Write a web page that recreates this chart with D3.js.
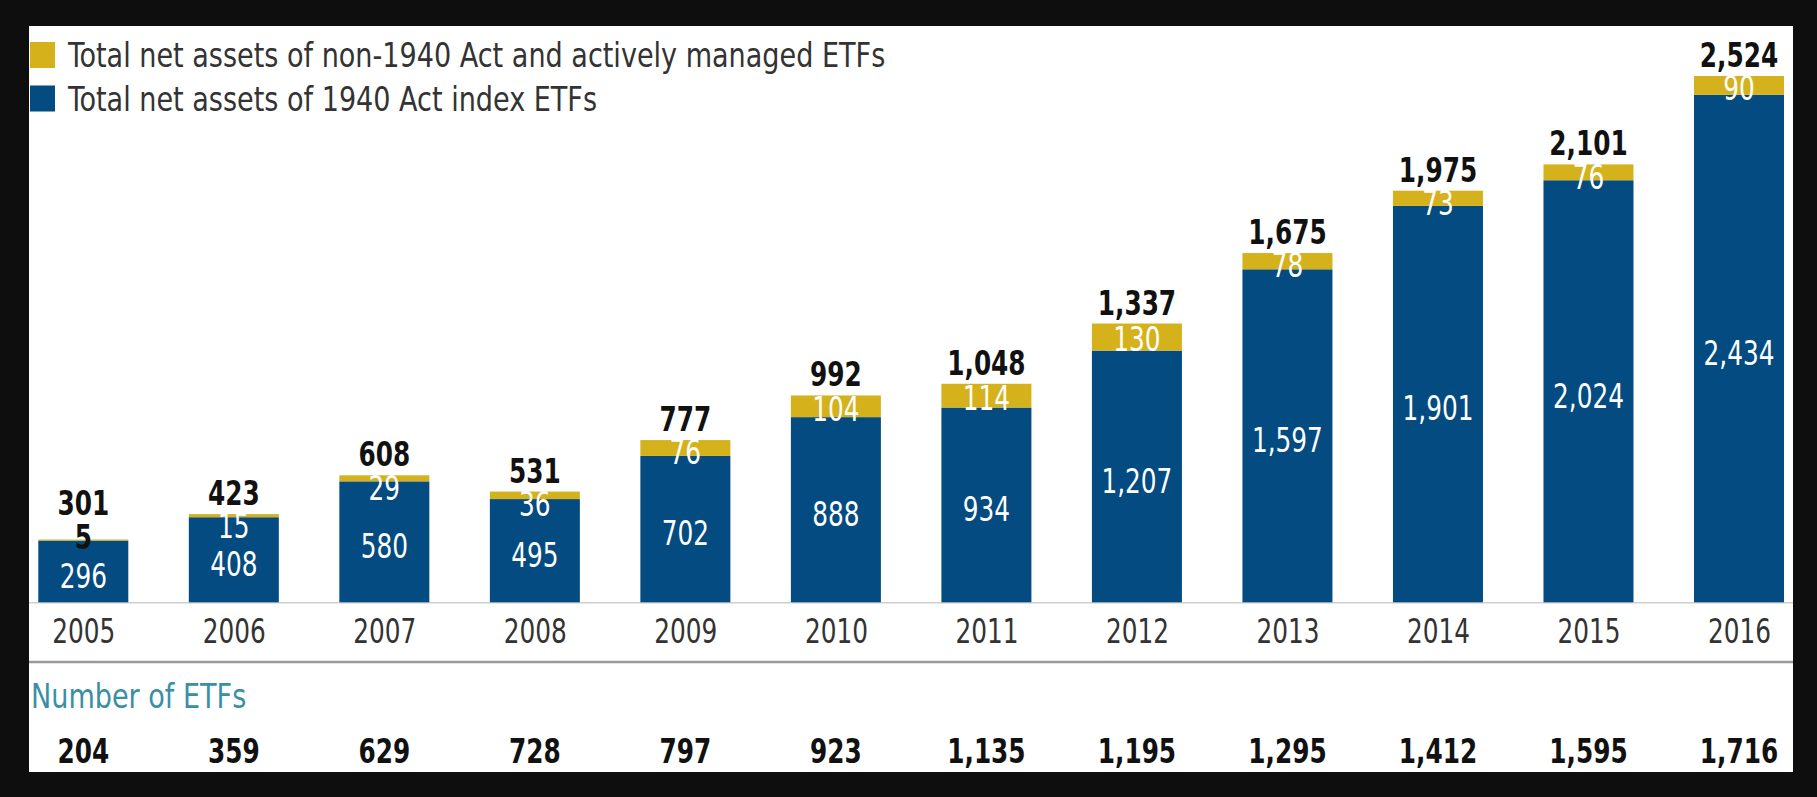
<!DOCTYPE html>
<html>
<head>
<meta charset="utf-8">
<script src="https://cdn.jsdelivr.net/npm/d3@7/dist/d3.min.js"></script>
<style>
  html, body { margin: 0; padding: 0; background: #0e0e0e; }
  svg { display: block; }
  text { font-family: 'Liberation Sans Narrow', 'DejaVu Sans Condensed', 'Roboto Condensed', sans-serif; }
</style>
</head>
<body>
<svg id="chart" width="1817" height="797"></svg>
<script>
const years = ["2005","2006","2007","2008","2009","2010","2011","2012","2013","2014","2015","2016"];
const indexAssets = [296, 408, 580, 495, 702, 888, 934, 1207, 1597, 1901, 2024, 2434];
const otherAssets = [5, 15, 29, 36, 76, 104, 114, 130, 78, 73, 76, 90];
const totalAssets = [301, 423, 608, 531, 777, 992, 1048, 1337, 1675, 1975, 2101, 2524];
const etfCounts = [204, 359, 629, 728, 797, 923, 1135, 1195, 1295, 1412, 1595, 1716];
const seriesNames = ["Total net assets of non-1940 Act and actively managed ETFs", "Total net assets of 1940 Act index ETFs"];
const countTitle = "Number of ETFs";

const BLUE = "#034b80", GOLD = "#d5b21c";
const NUM_K = 0.81, WORD_K = 0.885;
const fmt = d3.format(",");

// horizontally condense a text element around its anchor point
function squeeze(sel, k) {
  sel.each(function() {
    const t = d3.select(this);
    const tx = +t.attr("x") || 0, ty = +t.attr("y") || 0;
    t.attr("x", 0).attr("y", 0).attr("transform", `translate(${tx},${ty}) scale(${k},1)`);
  });
}

const svg = d3.select("#chart");
svg.append("rect").attr("x", 29).attr("y", 26).attr("width", 1764).attr("height", 746).attr("fill", "#fff");

const x = d3.scalePoint().domain(years).range([83.3, 1739]);
const y = d3.scaleLinear().domain([0, 2524]).range([602.3, 76]);
const bw = 90;

const rows = years.map((yr, i) => ({yr, idx: indexAssets[i], oth: otherAssets[i], tot: totalAssets[i], n: etfCounts[i]}));
const stack = d3.stack().keys(["idx", "oth"])(rows);

// baseline
svg.append("line").attr("x1", 29).attr("x2", 1793).attr("y1", y(0) + 0.5).attr("y2", y(0) + 0.5)
  .attr("stroke", "#cfcfcf").attr("stroke-width", 1.5);

// bars
const colors = {idx: BLUE, oth: GOLD};
stack.forEach(layer => {
  svg.append("g").selectAll("rect").data(layer).join("rect")
    .attr("x", d => x(d.data.yr) - bw / 2)
    .attr("width", bw)
    .attr("y", d => y(d[1]))
    .attr("height", d => Math.max(0, y(d[0]) - y(d[1])))
    .attr("fill", colors[layer.key]);
});

// blue labels
svg.append("g").selectAll("text").data(stack[0]).join("text")
  .attr("x", d => x(d.data.yr))
  .attr("y", d => (y(d[0]) + y(d[1])) / 2 + 4)
  .attr("dy", "0.36em")
  .attr("text-anchor", "middle")
  .attr("font-size", 34).attr("fill", "#fff")
  .text(d => fmt(d.data.idx))
  .call(squeeze, NUM_K);

// gold labels
svg.append("g").selectAll("text").data(stack[1]).join("text")
  .attr("x", d => x(d.data.yr))
  .attr("y", d => d.data.oth < 10 ? y(d[1]) - 3 : Math.max((y(d[0]) + y(d[1])) / 2 + 2, y(d[1]) + 12))
  .attr("dy", "0.36em")
  .attr("text-anchor", "middle")
  .attr("font-size", 34)
  .attr("font-weight", d => d.data.oth < 10 ? "bold" : "normal")
  .attr("fill", d => d.data.oth < 10 ? "#111" : "#fff")
  .text(d => fmt(d.data.oth))
  .call(squeeze, NUM_K);

// total labels
svg.append("g").selectAll("text").data(stack[1]).join("text")
  .attr("x", d => x(d.data.yr))
  .attr("y", d => y(d[1]) - (d.data.oth < 10 ? 25 : 9))
  .attr("text-anchor", "middle")
  .attr("font-size", 34).attr("font-weight", "bold").attr("fill", "#111")
  .text(d => fmt(d.data.tot))
  .call(squeeze, NUM_K);

// x axis (year labels)
const xAxis = d3.axisBottom(x).tickSize(0).tickPadding(0);
const gx = svg.append("g").attr("transform", `translate(0, ${y(0)})`).call(xAxis);
gx.select(".domain").remove();
gx.selectAll("text").attr("y", 41).attr("dy", 0)
  .attr("font-size", 34).attr("fill", "#333")
  .style("font-family", "'Liberation Sans Narrow', 'DejaVu Sans Condensed', 'Roboto Condensed', sans-serif")
  .call(squeeze, NUM_K);

// divider
svg.append("line").attr("x1", 29).attr("x2", 1793).attr("y1", 662).attr("y2", 662)
  .attr("stroke", "#999").attr("stroke-width", 2.5);

// count title
svg.append("text").attr("x", 31).attr("y", 708)
  .attr("font-size", 34).attr("fill", "#3a8fa5").text(countTitle)
  .call(squeeze, WORD_K);

// counts
svg.append("g").selectAll("text").data(rows).join("text")
  .attr("x", d => x(d.yr)).attr("y", 763)
  .attr("text-anchor", "middle")
  .attr("font-size", 34).attr("font-weight", "bold").attr("fill", "#111")
  .text(d => fmt(d.n))
  .call(squeeze, NUM_K);

// legend
const leg = svg.append("g");
[GOLD, BLUE].forEach((c, i) => {
  leg.append("rect").attr("x", 30).attr("y", 42 + i * 43.5).attr("width", 25).attr("height", 26).attr("fill", c);
  leg.append("text").attr("x", 68).attr("y", 67 + i * 43.5)
    .attr("font-size", 34).attr("fill", "#333").text(seriesNames[i])
    .call(squeeze, WORD_K);
});
</script>
</body>
</html>
